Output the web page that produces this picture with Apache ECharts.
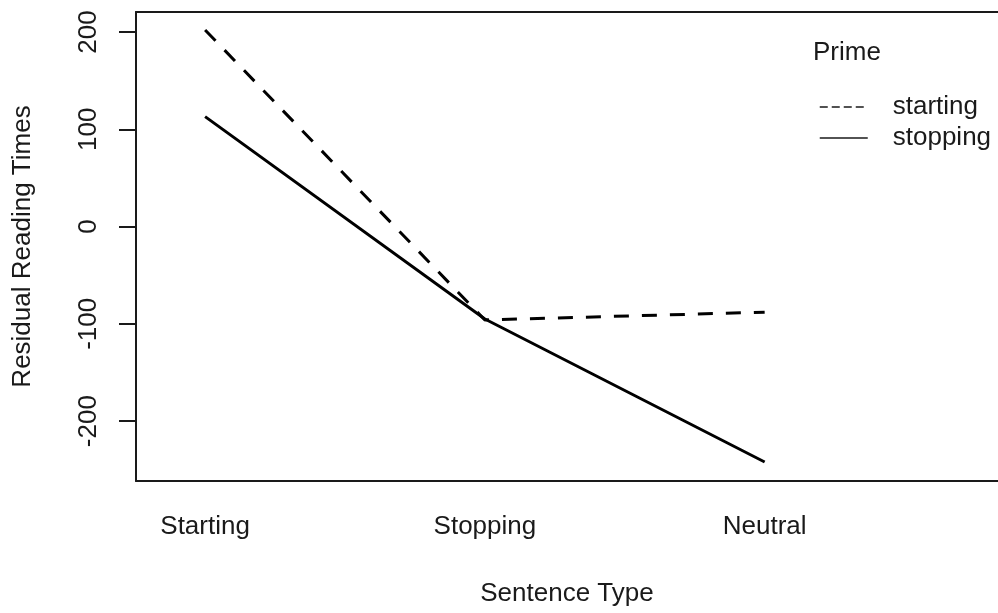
<!DOCTYPE html>
<html>
<head>
<meta charset="utf-8">
<script src="https://cdn.jsdelivr.net/npm/echarts@6/dist/echarts.min.js"></script>
<style>
  html, body { margin: 0; padding: 0; background: #fff; }
  #chart { width: 998px; height: 613px; }
</style>
</head>
<body>
<div id="chart"></div>
<script>
// data
const categories = ["Starting", "Stopping", "Neutral"];
const startingPrime = [202, -96, -88];
const stoppingPrime = [113, -95, -242];
const yTicks = [-200, -100, 0, 100, 200];
const xTicks = [1, 2, 3];

const font = "Liberation Sans, Arial, sans-serif";
const ink = "#1a1a1a";

const chart = echarts.init(document.getElementById("chart"));

const toPoints = (vals) => vals.map((v, i) => [xTicks[i], v]);

const option = {
  animation: false,
  textStyle: { fontFamily: font },
  grid: { left: 136, right: -5, top: 12, bottom: 132, show: false },
  title: {
    text: "Prime",
    left: 813,
    top: 40,
    padding: 0,
    textStyle: { fontFamily: font, fontSize: 26, fontWeight: "normal", color: ink },
  },
  // legend: line samples only, no symbol
  legend: {
    orient: "vertical",
    left: 819,
    top: 94,
    padding: 0,
    itemWidth: 48,
    itemHeight: 26,
    itemGap: 5,
    data: [
      {
        name: "starting",
        itemStyle: { opacity: 0 },
        lineStyle: { type: [8, 4], width: 1.5, color: ink },
      },
      {
        name: "stopping",
        itemStyle: { opacity: 0 },
        lineStyle: { type: "solid", width: 1.5, color: ink },
      },
    ],
    textStyle: {
      fontFamily: font,
      fontSize: 26,
      lineHeight: 26,
      color: ink,
      padding: [0, 0, 0, 20],
    },
  },
  xAxis: [
    {
      type: "value",
      min: 0.753,
      max: 3.834,
      name: "Sentence Type",
      nameLocation: "middle",
      nameGap: 100,
      nameTextStyle: { fontFamily: font, fontSize: 26, color: ink },
      axisLine: { show: true, onZero: false, lineStyle: { color: ink, width: 2 } },
      axisTick: { show: false },
      splitLine: { show: false },
      axisLabel: {
        customValues: xTicks,
        margin: 33,
        fontFamily: font,
        fontSize: 26,
        color: ink,
        formatter: (v) => categories[Math.round(v) - 1] || "",
      },
    },
    {
      type: "value",
      position: "top",
      min: 0.753,
      max: 3.834,
      axisLine: { show: true, onZero: false, lineStyle: { color: ink, width: 2 } },
      axisTick: { show: false },
      axisLabel: { show: false },
      splitLine: { show: false },
    },
  ],
  yAxis: {
    type: "value",
    min: -261.5,
    max: 220.5,
    name: "Residual Reading Times",
    nameLocation: "middle",
    nameGap: 100,
    nameTextStyle: { fontFamily: font, fontSize: 26, color: ink },
    axisLine: { show: true, onZero: false, lineStyle: { color: ink, width: 2 } },
    axisTick: {
      show: true,
      customValues: yTicks,
      length: 17,
      lineStyle: { color: ink, width: 2 },
    },
    splitLine: { show: false },
    axisLabel: {
      customValues: yTicks,
      rotate: 90,
      margin: 34,
      fontFamily: font,
      fontSize: 26,
      color: ink,
    },
  },
  series: [
    {
      name: "starting",
      type: "line",
      data: toPoints(startingPrime),
      symbol: "none",
      lineStyle: { color: "#000", width: 3, type: [15, 13] },
      itemStyle: { color: "#000" },
    },
    {
      name: "stopping",
      type: "line",
      data: toPoints(stoppingPrime),
      symbol: "none",
      lineStyle: { color: "#000", width: 3, type: "solid" },
      itemStyle: { color: "#000" },
    },
  ],
};

chart.setOption(option);
</script>
</body>
</html>
